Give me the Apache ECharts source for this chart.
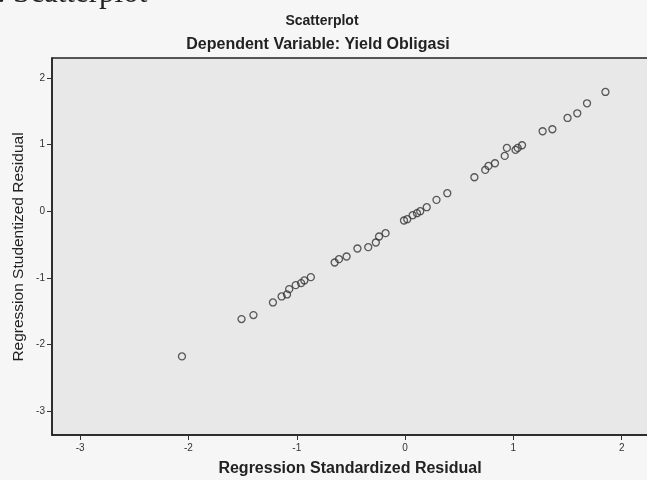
<!DOCTYPE html>
<html><head><meta charset="utf-8">
<script src="https://cdn.jsdelivr.net/npm/echarts@6/dist/echarts.min.js"></script>
<style>html,body{margin:0;padding:0;background:#f6f6f6;}#c{width:647px;height:480px;}</style>
</head><body><div id="c"></div>
<script>
const xValues = [-2.06,-1.51,-1.40,-1.22,-1.14,-1.09,-1.07,-1.01,-0.96,-0.93,-0.87,-0.65,-0.61,-0.54,-0.44,-0.34,-0.27,-0.24,-0.18,-0.01,0.02,0.07,0.11,0.14,0.20,0.29,0.39,0.64,0.74,0.77,0.83,0.92,0.94,1.02,1.04,1.08,1.27,1.36,1.50,1.59,1.68,1.85];
const yValues = [-2.18,-1.62,-1.56,-1.37,-1.28,-1.25,-1.17,-1.11,-1.08,-1.04,-0.99,-0.77,-0.72,-0.68,-0.56,-0.54,-0.47,-0.38,-0.33,-0.14,-0.12,-0.06,-0.03,0.00,0.06,0.17,0.27,0.51,0.62,0.68,0.72,0.83,0.95,0.92,0.95,0.99,1.20,1.23,1.40,1.47,1.62,1.79];
const xTicks = [-3,-2,-1,0,1,2];
const yTicks = [-3,-2,-1,0,1,2];
const pageTitle = "b. Scatterplot";
const chartTitle = "Scatterplot";
const subTitle = "Dependent Variable: Yield Obligasi";
const xName = "Regression Standardized Residual";
const yName = "Regression Studentized Residual";

const points = xValues.map((x,i)=>[x,yValues[i]]);
const chart = echarts.init(document.getElementById('c'));
const axisCommon = {
  type:'value', splitLine:{show:false},
  axisLine:{show:true,onZero:false,lineStyle:{color:'#222',width:1.5}},
  axisTick:{show:true,length:5,lineStyle:{color:'#333',width:1}},
  axisLabel:{color:'#333',fontSize:10,fontFamily:'Liberation Sans'}
};
chart.setOption({
  backgroundColor:'#f6f6f6',
  animation:false,
  grid:{left:52,top:58,width:613,height:377,outerBoundsMode:'none',containLabel:false,show:true,backgroundColor:'#e8e8e8',borderColor:'#222',borderWidth:1.5},
  xAxis:Object.assign({},axisCommon,{min:-3.26,max:2.4,
    axisTick:Object.assign({},axisCommon.axisTick,{customValues:xTicks}),
    axisLabel:Object.assign({},axisCommon.axisLabel,{customValues:xTicks,margin:8})}),
  yAxis:Object.assign({},axisCommon,{min:-3.36,max:2.3,
    axisTick:Object.assign({},axisCommon.axisTick,{customValues:yTicks}),
    axisLabel:Object.assign({},axisCommon.axisLabel,{customValues:yTicks,margin:7})}),
  series:[{type:'scatter',data:points,symbol:'circle',symbolSize:7,
    itemStyle:{color:'rgba(0,0,0,0)',borderColor:'#333',borderWidth:1.3}}],
  graphic:[
    {type:'text',left:-18,top:-22,style:{text:pageTitle,font:'31px "Liberation Serif"',fill:'#222'}},
    {type:'text',x:322,y:21,style:{text:chartTitle,font:'bold 14px "Liberation Sans"',fill:'#222',align:'center',verticalAlign:'middle'}},
    {type:'text',x:318,y:45,style:{text:subTitle,font:'bold 16px "Liberation Sans"',fill:'#222',align:'center',verticalAlign:'middle'}},
    {type:'text',x:350,y:469,style:{text:xName,font:'bold 16px "Liberation Sans"',fill:'#222',align:'center',verticalAlign:'middle'}},
    {type:'text',x:19,y:247,rotation:Math.PI/2,style:{text:yName,font:'15.5px "Liberation Sans"',fill:'#222',align:'center',verticalAlign:'middle'}}
  ]
});
</script></body></html>
